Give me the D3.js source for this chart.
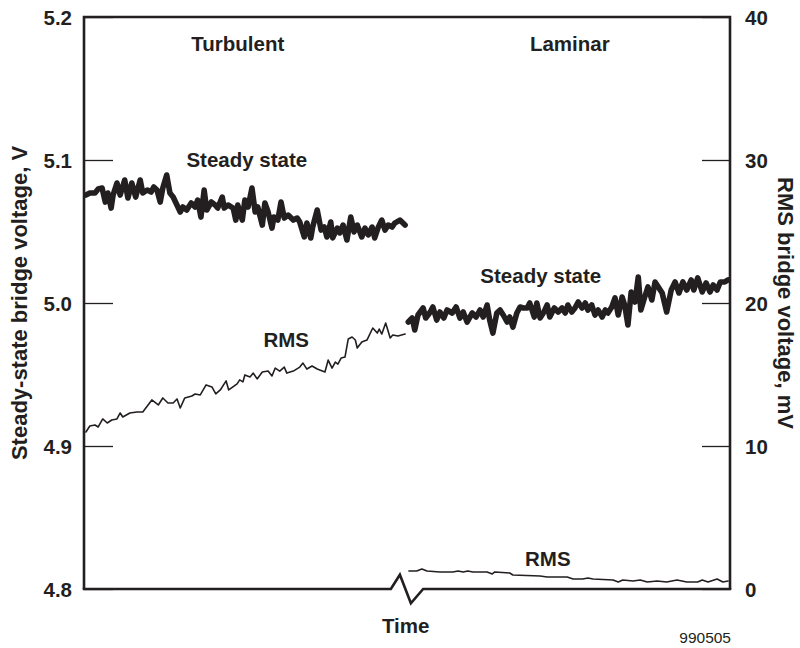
<!DOCTYPE html>
<html>
<head>
<meta charset="utf-8">
<script src="https://cdn.jsdelivr.net/npm/d3@7"></script>
<style>
  html, body { margin: 0; padding: 0; background: #fff; }
  svg { display: block; }
  text { font-family: "Liberation Sans", Arial, Helvetica, sans-serif; fill: #231f20; }
</style>
</head>
<body>
<svg id="chart" width="800" height="648"></svg>
<script>
// ---------------- data ----------------
// time is in arbitrary units (0..100 across the plot)
const turbSteadyTime = [0.3,0.9,1.7,2.2,2.8,3.3,3.7,4.2,4.5,5.1,5.6,6.3,6.8,7.4,8.0,8.7,9.1,9.8,10.4,10.8,11.3,11.8,12.2,12.8,13.3,13.8,14.9,15.3,15.9,16.6,17.2,17.6,18.1,18.6,19.0,19.7,20.3,20.7,21.4,21.7,22.3,23.1,23.5,23.8,24.5,24.9,25.4,26.0,26.5,26.9,27.6,28.0,28.5,29.1,29.4,30.0,30.5,31.0,31.6,32.4,33.0,33.4,34.1,34.5,35.1,35.4,36.1,36.7,37.2,37.6,38.2,38.5,39.2,39.6,40.1,40.7,41.3,41.8,42.3,43.0,43.5,44.0,44.6,45.0,45.5,46.1,46.6,47.1,47.7,48.1,48.9,49.7];
const turbSteadyV = [5.0755,5.0769,5.0769,5.0797,5.0804,5.0706,5.0769,5.0664,5.0755,5.0839,5.0755,5.0860,5.0734,5.0839,5.0741,5.0860,5.0769,5.0790,5.0776,5.0811,5.0790,5.0706,5.0804,5.0895,5.0769,5.0741,5.0636,5.0671,5.0650,5.0699,5.0671,5.0720,5.0601,5.0790,5.0650,5.0706,5.0685,5.0664,5.0741,5.0664,5.0685,5.0664,5.0580,5.0685,5.0580,5.0720,5.0671,5.0804,5.0636,5.0671,5.0545,5.0699,5.0636,5.0524,5.0601,5.0580,5.0706,5.0594,5.0615,5.0580,5.0594,5.0566,5.0462,5.0559,5.0455,5.0531,5.0650,5.0510,5.0531,5.0462,5.0566,5.0455,5.0524,5.0490,5.0545,5.0441,5.0601,5.0497,5.0545,5.0462,5.0524,5.0476,5.0531,5.0455,5.0524,5.0580,5.0510,5.0545,5.0531,5.0559,5.0580,5.0545];

const turbRmsTime = [0.3,0.9,1.7,2.2,2.9,3.6,4.3,5.1,5.6,6.0,7.1,8.2,9.1,9.8,10.5,11.5,12.2,13.0,13.8,14.4,14.9,15.6,16.7,17.2,18.0,18.9,19.8,20.4,21.1,22.0,22.4,23.7,24.1,24.6,24.9,25.7,26.2,26.8,27.6,28.5,29.1,29.6,30.3,31.0,31.4,32.4,33.4,33.9,34.5,35.3,36.1,37.3,37.8,38.4,38.9,39.3,39.8,40.4,40.9,41.5,42.0,42.3,43.0,43.8,44.7,45.4,45.7,46.1,46.7,47.4,47.8,48.6,49.7];
const turbRmsMv = [10.98,11.40,11.47,11.33,11.89,11.61,11.82,11.89,12.31,12.03,12.31,12.38,12.38,12.80,13.22,12.87,13.36,13.01,13.01,13.29,12.66,13.36,13.50,13.64,13.57,14.27,14.13,13.64,13.92,14.55,13.92,14.34,14.62,14.48,14.97,14.83,15.10,14.69,15.17,15.24,14.90,15.45,15.24,15.52,15.10,15.24,15.52,15.80,15.38,15.59,15.38,15.17,16.01,15.45,15.87,15.73,16.15,16.22,17.48,17.62,17.41,16.85,17.27,17.41,18.25,17.90,18.18,17.83,18.60,17.55,17.76,17.69,17.83];

const lamSteadyTime = [50.2,50.8,51.2,51.7,52.5,52.9,53.6,54.0,54.6,55.1,55.7,56.2,57.0,57.6,58.2,58.7,59.3,60.1,60.7,61.3,61.8,62.4,62.8,63.3,63.9,64.4,64.9,65.5,65.9,66.4,67.0,67.5,68.0,68.6,69.0,69.7,70.1,70.6,71.2,71.7,72.1,72.8,73.4,74.0,74.5,74.9,75.5,76.0,76.5,77.1,77.6,78.0,78.6,79.1,79.6,80.2,80.7,81.1,81.7,82.2,82.7,83.3,83.7,84.2,84.7,85.3,85.8,86.2,86.8,87.3,87.9,88.4,88.9,89.5,90.2,90.9,91.5,92.1,92.7,93.3,94.0,94.4,95.0,95.7,96.3,96.9,97.4,98.0,98.5,99.2,99.7];
const lamSteadyV = [4.9867,4.9895,4.9811,4.9916,4.9965,4.9895,4.9937,4.9972,4.9881,4.9937,4.9895,4.9951,4.9930,4.9972,4.9895,4.9937,4.9867,4.9930,4.9902,4.9951,4.9902,4.9986,4.9881,4.9790,4.9930,4.9951,4.9916,4.9867,4.9902,4.9832,4.9930,4.9972,4.9965,4.9965,5.0000,4.9902,5.0000,4.9895,4.9937,4.9986,4.9902,4.9965,4.9937,4.9965,4.9930,4.9986,4.9937,4.9965,5.0007,4.9965,5.0000,4.9951,4.9986,4.9916,4.9951,4.9902,4.9951,4.9930,4.9972,5.0035,4.9916,5.0042,4.9986,4.9846,5.0077,5.0007,5.0182,4.9951,5.0042,5.0112,5.0021,5.0147,5.0112,5.0070,4.9937,5.0091,5.0147,5.0070,5.0147,5.0091,5.0161,5.0091,5.0175,5.0077,5.0140,5.0077,5.0126,5.0091,5.0147,5.0147,5.0161];

const lamRmsTime = [50.3,51.5,52.3,53.1,55.1,57.1,57.9,58.7,59.4,60.2,62.4,63.2,63.6,65.9,66.4,70.6,71.7,74.8,75.7,77.2,78.0,78.8,81.9,82.7,83.4,85.0,86.1,87.2,88.7,90.2,91.8,93.3,95.0,95.7,96.6,98.0,98.9,99.7];
const lamRmsMv = [1.26,1.26,1.40,1.26,1.19,1.19,1.26,1.19,1.26,1.19,1.19,1.05,1.19,1.12,0.98,0.91,0.84,0.84,0.70,0.70,0.77,0.70,0.63,0.49,0.63,0.56,0.63,0.49,0.56,0.49,0.63,0.49,0.49,0.63,0.49,0.70,0.49,0.56];

const leftTicks = [4.8, 4.9, 5.0, 5.1, 5.2];
const leftTickLabels = ["4.8", "4.9", "5.0", "5.1", "5.2"];
const rightTicks = [0, 10, 20, 30, 40];
const rightTickLabels = ["0", "10", "20", "30", "40"];

// time-axis break symbol (time, mV offset)
const breakTime = [47.5, 48.9, 50.6, 52.5];
const breakMv = [0, 1.0, -1.0, 0];

// annotations: text, time, value, axis
const annotations = [
  { text: "Turbulent",    t: 23.8, v: 5.176, axis: "left" },
  { text: "Laminar",      t: 75.2, v: 5.176, axis: "left" },
  { text: "Steady state", t: 25.2, v: 5.095, axis: "left" },
  { text: "RMS",          t: 31.3, v: 16.9,  axis: "right" },
  { text: "Steady state", t: 70.7, v: 5.014, axis: "left" },
  { text: "RMS",          t: 71.8, v: 1.6,   axis: "right" }
];

// ---------------- drawing ----------------
const W = 800, H = 648;
const margin = { top: 17, right: 70, bottom: 59, left: 84 };
const ink = "#231f20";
const svg = d3.select("#chart");

const x = d3.scaleLinear().domain([0, 100]).range([margin.left, W - margin.right]);
const yL = d3.scaleLinear().domain([4.8, 5.2]).range([H - margin.bottom, margin.top]);
const yR = d3.scaleLinear().domain([0, 40]).range([H - margin.bottom, margin.top]);

// axes (ticks drawn inward)
const gL = svg.append("g").attr("transform", `translate(${margin.left},0)`)
  .call(d3.axisLeft(yL).tickValues(leftTicks)
    .tickFormat((d, i) => leftTickLabels[i]).tickSizeInner(-29).tickSizeOuter(0).tickPadding(12));
const gR = svg.append("g").attr("transform", `translate(${W - margin.right},0)`)
  .call(d3.axisRight(yR).tickValues(rightTicks)
    .tickFormat((d, i) => rightTickLabels[i]).tickSizeInner(-28).tickSizeOuter(0).tickPadding(15));
[gL, gR].forEach(g => {
  g.select(".domain").remove();
  g.selectAll(".tick line").attr("stroke", ink).attr("stroke-width", 1.3);
  g.selectAll(".tick text").attr("fill", ink).style("font-size", "20.5px")
    .style("font-weight", "bold").attr("font-family", null).attr("dy", "0.36em");
});

// frame
const x0 = x.range()[0], x1 = x.range()[1];
const yTop = yL.range()[1], yBot = yL.range()[0];
svg.append("path")
  .attr("d", `M${x0},${yBot}L${x0},${yTop}L${x1},${yTop}L${x1},${yBot}`)
  .attr("fill", "none").attr("stroke", ink).attr("stroke-width", 2.6)
  .attr("stroke-linejoin", "miter");

// bottom axis with break
const bottomPts = [[0, 0]].concat(breakTime.map((t, i) => [t, breakMv[i]])).concat([[100, 0]]);
svg.append("path")
  .attr("d", d3.line().x(d => x(d[0])).y(d => yR(d[1]))(bottomPts))
  .attr("fill", "none").attr("stroke", ink).attr("stroke-width", 2.6)
  .attr("stroke-linejoin", "miter").attr("stroke-linecap", "square");

// series
function drawSeries(times, vals, yScale, width) {
  const pts = times.map((t, i) => [t, vals[i]]);
  svg.append("path")
    .attr("d", d3.line().x(d => x(d[0])).y(d => yScale(d[1]))(pts))
    .attr("fill", "none").attr("stroke", ink).attr("stroke-width", width)
    .attr("stroke-linejoin", "round").attr("stroke-linecap", "round");
}
drawSeries(turbRmsTime, turbRmsMv, yR, 1.6);
drawSeries(lamRmsTime, lamRmsMv, yR, 1.6);
drawSeries(turbSteadyTime, turbSteadyV, yL, 5.6);
drawSeries(lamSteadyTime, lamSteadyV, yL, 5.6);

// annotations
svg.selectAll("text.anno").data(annotations).enter().append("text")
  .attr("class", "anno")
  .attr("x", d => x(d.t))
  .attr("y", d => (d.axis === "left" ? yL(d.v) : yR(d.v)))
  .attr("text-anchor", "middle")
  .style("font-size", "20.5px").style("font-weight", "bold")
  .text(d => d.text);

// axis titles
svg.append("text")
  .attr("transform", `translate(27,${(yTop + yBot) / 2}) rotate(-90)`)
  .attr("text-anchor", "middle")
  .style("font-size", "22px").style("font-weight", "bold")
  .text("Steady-state bridge voltage, V");
svg.append("text")
  .attr("transform", `translate(778,${(yTop + yBot) / 2}) rotate(90)`)
  .attr("text-anchor", "middle")
  .style("font-size", "22px").style("font-weight", "bold")
  .text("RMS bridge voltage, mV");
svg.append("text")
  .attr("x", x(49.8)).attr("y", 633)
  .attr("text-anchor", "middle")
  .style("font-size", "20.5px").style("font-weight", "bold")
  .text("Time");
svg.append("text")
  .attr("x", x1 + 1).attr("y", 643)
  .attr("text-anchor", "end")
  .style("font-size", "15.5px")
  .text("990505");
</script>
</body>
</html>
